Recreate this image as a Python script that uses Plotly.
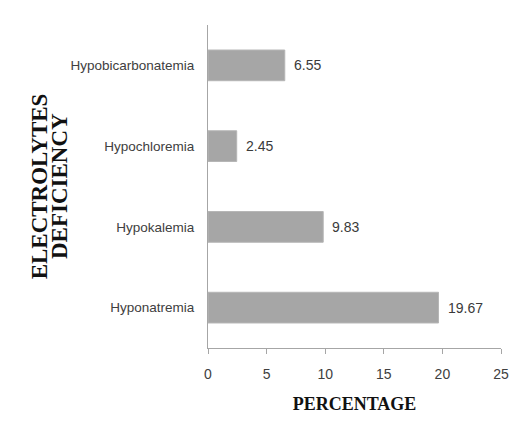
import plotly.graph_objects as go

# Electrolyte deficiencies (bottom to top) and their percentages
categories = ["Hyponatremia", "Hypokalemia", "Hypochloremia", "Hypobicarbonatemia"]
percentages = [19.67, 9.83, 2.45, 6.55]
x_ticks = [0, 5, 10, 15, 20, 25]
y_title_lines = ["ELECTROLYTES", "DEFICIENCY"]

SANS = "Liberation Sans, Arial, sans-serif"
SERIF = "Liberation Serif, Times New Roman, serif"

fig = go.Figure(
    go.Bar(
        x=percentages,
        y=categories,
        orientation="h",
        marker=dict(color="#a6a6a6", line=dict(color="#b5b5b5", width=1)),
        hoverinfo="x+y",
    )
)

# value labels just right of each bar
for cat, val in zip(categories, percentages):
    fig.add_annotation(
        x=val, y=cat, xref="x", yref="y",
        text=f"{val:.2f}", showarrow=False,
        xanchor="left", xshift=7,
        font=dict(family=SANS, size=14, color="#3a3a3a"),
    )

# rotated y-axis title, one annotation per line
for i, line in enumerate(y_title_lines):
    fig.add_annotation(
        x=(37 + 20 * i - 208) / 298, y=0.5, xref="paper", yref="paper",
        xanchor="center", yanchor="middle",
        text=f"<b>{line}</b>",
        textangle=-90, showarrow=False,
        font=dict(family=SERIF, size=23, color="#111111"),
    )

fig.update_layout(
    width=521, height=446,
    margin=dict(l=208, r=15, t=25, b=98),
    paper_bgcolor="white", plot_bgcolor="white",
    bargap=0.62,
    showlegend=False,
    xaxis=dict(
        range=[0, 25], tickvals=x_ticks, ticktext=[str(t) for t in x_ticks],
        showgrid=False, zeroline=False,
        showline=True, linecolor="#a6a6a6", linewidth=1,
        ticks="outside", ticklen=5, tickcolor="#a6a6a6",
        ticklabelstandoff=8,
        tickfont=dict(family=SANS, size=14, color="#404040"),
        title=dict(text="<b>PERCENTAGE</b>", standoff=16,
                   font=dict(family=SERIF, size=18, color="#111111")),
    ),
    yaxis=dict(
        type="category", range=[-0.5, 3.5],
        showgrid=False, zeroline=False,
        showline=True, linecolor="#a6a6a6", linewidth=1,
        ticks="", ticklabelstandoff=10,
        tickfont=dict(family=SANS, size=13.5, color="#404040"),
    ),
)

fig.write_html("out.html")
